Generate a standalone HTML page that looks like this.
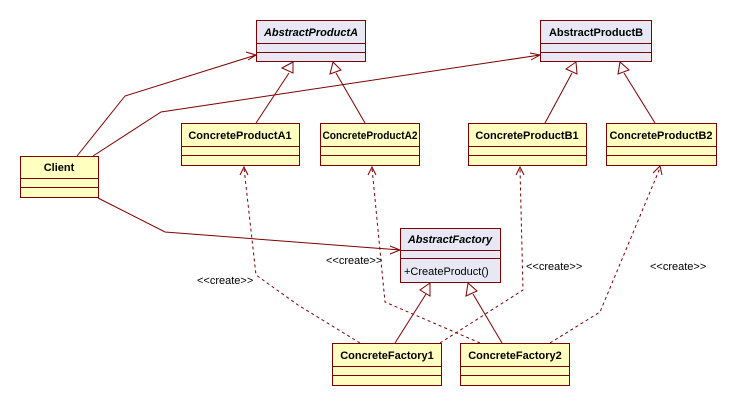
<!DOCTYPE html>
<html><head><style>
body{margin:0;background:#fff;}
svg text{font-family:"Liberation Sans","DejaVu Sans",sans-serif;}
</style></head><body>
<svg width="746" height="406" xmlns="http://www.w3.org/2000/svg">
<g stroke="#800000" stroke-width="1" fill="none">
<polyline points="77,156 125,96 256,55"/>
<polyline points="246,52 256,55 248,60"/>
<polyline points="93,156 161,112 540,55"/>
<polyline points="530,53 540,55 531,60"/>
<polyline points="98,198 165,232 400,250"/>
<polyline points="390,246 400,250 390,254"/>
<line x1="256" y1="123" x2="289" y2="73"/>
<line x1="365" y1="123" x2="336" y2="73"/>
<line x1="545" y1="123" x2="572" y2="73"/>
<line x1="655" y1="123" x2="624" y2="73"/>
<line x1="395" y1="343" x2="426" y2="294"/>
<line x1="502" y1="343" x2="473" y2="294"/>
<g fill="#fff">
<polygon points="293,62 282,68 293,73"/>
<polygon points="333,62 330,74 341,70"/>
<polygon points="576,62 566,69 577,74"/>
<polygon points="620,62 618,74 629,70"/>
<polygon points="430,283 420,290 430,296"/>
<polygon points="468,283 466,296 477,291"/>
</g>
<g stroke-dasharray="3,3">
<polyline points="360,343 298,305 256,275 244,168"/>
<polyline points="480,343 385,302 372,168"/>
<polyline points="440,343 523,290 520,168"/>
<polyline points="550,343 600,312 660,168"/>
</g>
<polyline points="240,175 244,167 248,175"/>
<polyline points="368,175 372,167 376,175"/>
<polyline points="516,175 520,167 524,175"/>
<polyline points="653,173 660,166 662,175"/>
</g>
<g font-size="11" fill="#000">
<text x="197" y="284">&lt;&lt;create&gt;&gt;</text>
<text x="326" y="264">&lt;&lt;create&gt;&gt;</text>
<text x="526" y="270">&lt;&lt;create&gt;&gt;</text>
<text x="650" y="270">&lt;&lt;create&gt;&gt;</text>
</g>
<g stroke="#800000" stroke-width="1">
<rect x="256.5" y="20.5" width="109" height="41" fill="#e8e8f4"/>
<line x1="256" y1="43.5" x2="366" y2="43.5"/><line x1="256" y1="52.5" x2="366" y2="52.5"/>
<rect x="540.5" y="20.5" width="111" height="41" fill="#e8e8f4"/>
<line x1="540" y1="43.5" x2="652" y2="43.5"/><line x1="540" y1="52.5" x2="652" y2="52.5"/>
<rect x="400.5" y="228.5" width="100" height="54" fill="#e8e8f4"/>
<line x1="400" y1="250.5" x2="501" y2="250.5"/><line x1="400" y1="258.5" x2="501" y2="258.5"/>
<g fill="#ffffc0">
<rect x="181.5" y="123.5" width="118" height="42"/>
<line x1="181" y1="146.5" x2="300" y2="146.5"/><line x1="181" y1="155.5" x2="300" y2="155.5"/>
<rect x="320.5" y="123.5" width="99" height="42"/>
<line x1="320" y1="146.5" x2="420" y2="146.5"/><line x1="320" y1="155.5" x2="420" y2="155.5"/>
<rect x="468.5" y="123.5" width="118" height="42"/>
<line x1="468" y1="146.5" x2="587" y2="146.5"/><line x1="468" y1="155.5" x2="587" y2="155.5"/>
<rect x="606.5" y="123.5" width="110" height="42"/>
<line x1="606" y1="146.5" x2="717" y2="146.5"/><line x1="606" y1="155.5" x2="717" y2="155.5"/>
<rect x="20.5" y="156.5" width="78" height="41"/>
<line x1="20" y1="178.5" x2="99" y2="178.5"/><line x1="20" y1="187.5" x2="99" y2="187.5"/>
<rect x="332.5" y="343.5" width="109" height="42"/>
<line x1="332" y1="366.5" x2="442" y2="366.5"/><line x1="332" y1="375.5" x2="442" y2="375.5"/>
<rect x="460.5" y="343.5" width="109" height="42"/>
<line x1="460" y1="366.5" x2="570" y2="366.5"/><line x1="460" y1="375.5" x2="570" y2="375.5"/>
</g>
</g>
<g font-size="11" font-weight="bold" fill="#000" text-anchor="middle">
<text x="311" y="36" font-style="italic">AbstractProductA</text>
<text x="596" y="36">AbstractProductB</text>
<text x="450" y="243" font-style="italic">AbstractFactory</text>
<text x="240" y="139">ConcreteProductA1</text>
<text x="370" y="139" textLength="95" lengthAdjust="spacingAndGlyphs">ConcreteProductA2</text>
<text x="527" y="139">ConcreteProductB1</text>
<text x="661" y="139" textLength="103" lengthAdjust="spacingAndGlyphs">ConcreteProductB2</text>
<text x="59" y="171">Client</text>
<text x="387" y="359">ConcreteFactory1</text>
<text x="515" y="359">ConcreteFactory2</text>
</g>
<text x="404" y="275" font-size="11" fill="#000">+CreateProduct()</text>
</svg>
</body></html>
